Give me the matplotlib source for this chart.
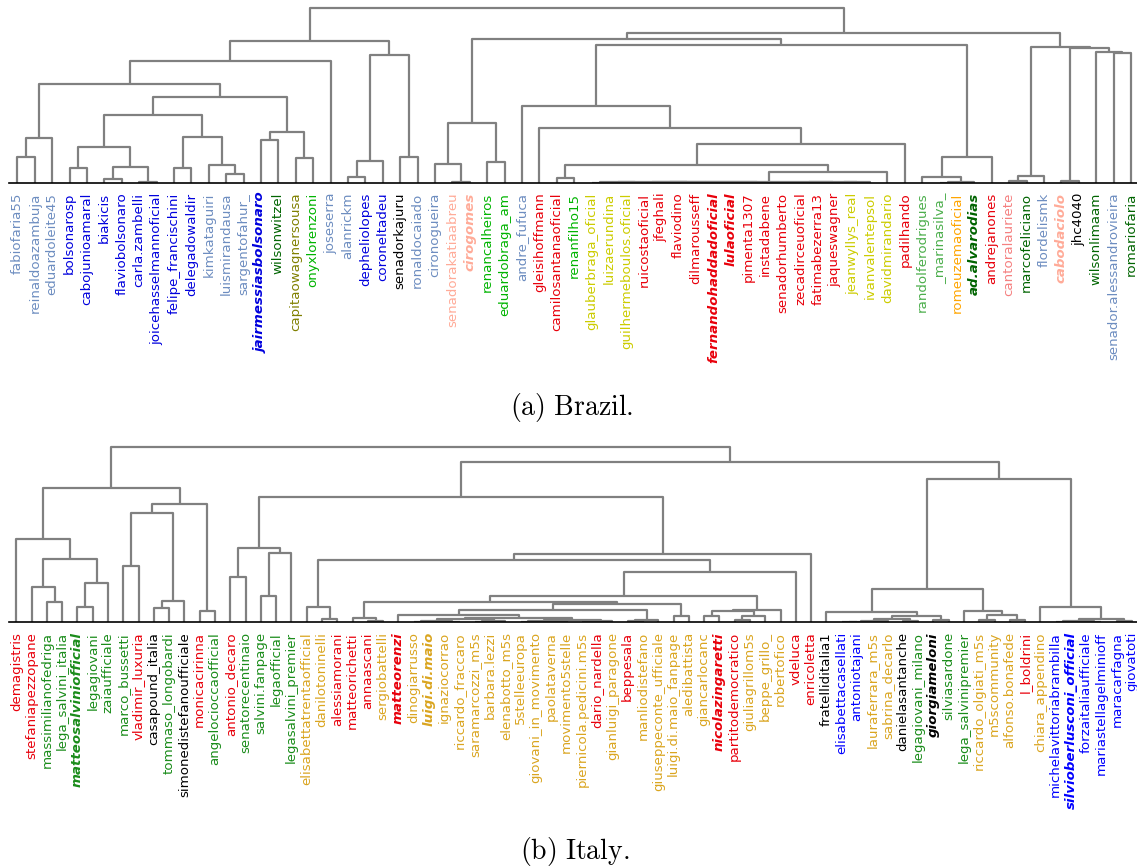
import matplotlib
matplotlib.use('Agg')
import matplotlib.pyplot as plt

plt.rcParams['mathtext.fontset'] = 'cm'

W, H = 1137, 868

# ---------------- Brazil ----------------
BR_LEAVES = [
    'fabiofaria55', 'reinaldoazambuja', 'eduardoleite45', 'bolsonarosp', 'cabojunioamaral',
    'biakicis', 'flaviobolsonaro', 'carla.zambelli', 'joicehasselmannoficial', 'felipe_francischini',
    'delegadowaldir', 'kimkataguiri', 'luismirandausa', 'sargentofahur_', 'jairmessiasbolsonaro',
    'wilsonwitzel', 'capitaowagnersousa', 'onyxlorenzoni', 'joseserra', 'alanrickm',
    'depheliolopes', 'coroneltadeu', 'senadorkajuru', 'ronaldocaiado', 'cironogueira',
    'senadorakatiaabreu', 'cirogomes', 'renancalheiros', 'eduardobraga_am', 'andre_fufuca',
    'gleisihoffmann', 'camilosantanaoficial', 'renanfilho15', 'glauberbraga_oficial', 'luizaerundina',
    'guilhermeboulos.oficial', 'ruicostaoficial', 'jfeghali', 'flaviodino', 'dilmarousseff',
    'fernandohaddadoficial', 'lulaoficial', 'pimenta1307', 'instadabene', 'senadorhumberto',
    'zecadirceuoficial', 'fatimabezerra13', 'jaqueswagner', 'jeanwyllys_real', 'ivanvalentepsol',
    'davidmirandario', 'padilhando', 'randolferodrigues', '_marinasilva_', 'romeuzemaoficial',
    'ad.alvarodias', 'andrejanones', 'cantoralauriete', 'marcofeliciano', 'flordelismk',
    'cabodaciolo', 'jhc4040', 'wilsonlimaam', 'senador.alessandrovieira', 'romariofaria',
]
BR_GROUPS = [
    'gb', 'gb', 'gb', 'b', 'b', 'b', 'b', 'b', 'b', 'b',
    'b', 'gb', 'gb', 'gb', 'b', 'dg', 'ol', 'lg', 'gb', 'gb',
    'b', 'b', 'k', 'gb', 'gb', 'ls', 'ls', 'lg', 'lg', 'gb',
    'r', 'r', 'lg', 'y', 'y', 'y', 'r', 'r', 'r', 'r',
    'r', 'r', 'r', 'r', 'r', 'r', 'r', 'r', 'y', 'y',
    'y', 'r', 'mg', 'mg', 'or', 'dg', 'r', 'co', 'dg', 'gb',
    'ls', 'k', 'dg', 'gb', 'dg',
]
BR_BOLD = ['jairmessiasbolsonaro', 'cirogomes', 'fernandohaddadoficial', 'lulaoficial',
           'ad.alvarodias', 'cabodaciolo']

# (node, left, right, merge distance)
BR_MERGES = [
    ('b1', 'fabiofaria55', 'reinaldoazambuja', 26),
    ('b2', 'b1', 'eduardoleite45', 45),
    ('b3', 'bolsonarosp', 'cabojunioamaral', 15),
    ('b4', 'biakicis', 'flaviobolsonaro', 4),
    ('b5', 'carla.zambelli', 'joicehasselmannoficial', 1),
    ('b6', 'b4', 'b5', 16),
    ('b7', 'b3', 'b6', 36),
    ('b8', 'felipe_francischini', 'delegadowaldir', 15),
    ('b9', 'luismirandausa', 'sargentofahur_', 9),
    ('b10', 'kimkataguiri', 'b9', 18),
    ('b11', 'b8', 'b10', 46),
    ('b12', 'b7', 'b11', 68),
    ('b13', 'jairmessiasbolsonaro', 'wilsonwitzel', 43),
    ('b14', 'capitaowagnersousa', 'onyxlorenzoni', 25),
    ('b15', 'b13', 'b14', 51),
    ('b16', 'b12', 'b15', 86),
    ('b17', 'b2', 'b16', 99),
    ('b18', 'b17', 'joseserra', 122),
    ('b19', 'alanrickm', 'depheliolopes', 6),
    ('b20', 'b19', 'coroneltadeu', 22),
    ('b21', 'senadorkajuru', 'ronaldocaiado', 26),
    ('b22', 'b20', 'b21', 128),
    ('b23', 'b18', 'b22', 142),
    ('b24', 'senadorakatiaabreu', 'cirogomes', 1),
    ('b25', 'cironogueira', 'b24', 19),
    ('b26', 'renancalheiros', 'eduardobraga_am', 21),
    ('b27', 'b25', 'b26', 60),
    ('b28', 'camilosantanaoficial', 'renanfilho15', 5),
    ('b29', 'glauberbraga_oficial', 'luizaerundina', 0.3),
    ('b30', 'guilhermeboulos.oficial', 'ruicostaoficial', 0.3),
    ('b31', 'b29', 'b30', 0.6),
    ('b32', 'jfeghali', 'flaviodino', 0.2),
    ('b33', 'dilmarousseff', 'fernandohaddadoficial', 0.4),
    ('b34', 'b32', 'b33', 0.7),
    ('b35', 'b31', 'b34', 0.9),
    ('b36', 'lulaoficial', 'pimenta1307', 0.3),
    ('b37', 'instadabene', 'senadorhumberto', 0.2),
    ('b38', 'b36', 'b37', 0.5),
    ('b39', 'b35', 'b38', 1.1),
    ('b40', 'zecadirceuoficial', 'fatimabezerra13', 0.4),
    ('b41', 'jaqueswagner', 'jeanwyllys_real', 0.3),
    ('b42', 'b41', 'ivanvalentepsol', 0.6),
    ('b43', 'b40', 'b42', 0.8),
    ('b44', 'b39', 'b43', 1.3),
    ('b45', 'b44', 'davidmirandario', 10.7),
    ('b46', 'b28', 'b45', 18),
    ('b47', 'b46', 'padilhando', 39),
    ('b48', 'gleisihoffmann', 'b47', 55),
    ('b49', 'andre_fufuca', 'b48', 77),
    ('b50', '_marinasilva_', 'romeuzemaoficial', 0.3),
    ('b51', 'b50', 'ad.alvarodias', 1),
    ('b52', 'randolferodrigues', 'b51', 6),
    ('b53', 'b52', 'andrejanones', 26),
    ('b54', 'b49', 'b53', 138),
    ('b55', 'b27', 'b54', 144),
    ('b56', 'cantoralauriete', 'marcofeliciano', 2),
    ('b57', 'b56', 'flordelismk', 7.3),
    ('b58', 'cabodaciolo', 'jhc4040', 2),
    ('b59', 'senador.alessandrovieira', 'romariofaria', 130.3),
    ('b60', 'wilsonlimaam', 'b59', 130.7),
    ('b61', 'b58', 'b60', 135),
    ('b62', 'b57', 'b61', 136.3),
    ('b63', 'b55', 'b62', 150),
    ('b64', 'b23', 'b63', 175),
]

# ---------------- Italy ----------------
IT_LEAVES = [
    'demagistris', 'stefaniapezzopane', 'massimilianofedriga', 'lega_salvini_italia', 'matteosalviniofficial',
    'legagiovani', 'zaiaufficiale', 'marco_bussetti', 'vladimir_luxuria', 'casapound_italia',
    'tommaso_longobardi', 'simonedistefanoufficiale', 'monicacirinna', 'angelocioccaofficial', 'antonio_decaro',
    'senatorecentinaio', 'salvini.fanpage', 'legaofficial', 'legasalvini_premier', 'elisabettatrentaofficial',
    'danilotoninelli', 'alessiamorani', 'matteorichetti', 'annaascani', 'sergiobattelli',
    'matteorenzi', 'dinogiarrusso', 'luigi.di.maio', 'ignaziocorrao', 'riccardo_fraccaro',
    'saramarcozzi_m5s', 'barbara.lezzi', 'elenabotto_m5s', '5stelleeuropa', 'giovani_in_movimento',
    'paolataverna', 'movimento5stelle', 'piernicola.pedicini.m5s', 'dario_nardella', 'gianluigi_paragone',
    'beppesala', 'manliodistefano', 'giuseppeconte_ufficiale', 'luigi.di.maio_fanpage', 'aledibattista',
    'giancarlocanc', 'nicolazingaretti', 'partitodemocratico', 'giuliagrillom5s', 'beppe_grillo_',
    'robertofico', 'vdeluca', 'enricoletta', 'fratelliditalia1', 'elisabettacasellati',
    'antoniotajani', 'lauraferrara_m5s', 'sabrina_decarlo', 'danielasantanche', 'legagiovani_milano',
    'giorgiameloni', 'silviasardone', 'lega_salvinipremier', 'riccardo_olgiati_m5s', 'm5scommunity',
    'alfonso.bonafede', 'l_boldrini', 'chiara_appendino', 'michelavittoriabrambilla', 'silvioberlusconi_official',
    'forzaitaliaufficiale', 'mariastellagelminioff', 'maracarfagna', 'giovatoti',
]
IT_GROUPS = [
    'r', 'r', 'g', 'g', 'g', 'g', 'g', 'g', 'r', 'k',
    'g', 'k', 'r', 'g', 'r', 'g', 'g', 'g', 'g', 'au',
    'au', 'r', 'r', 'r', 'au', 'r', 'au', 'au', 'au', 'au',
    'au', 'au', 'au', 'au', 'au', 'au', 'au', 'au', 'r', 'au',
    'r', 'au', 'au', 'au', 'au', 'au', 'r', 'r', 'au', 'au',
    'au', 'r', 'r', 'k', 'bl', 'bl', 'au', 'au', 'k', 'g',
    'k', 'g', 'g', 'au', 'au', 'au', 'r', 'au', 'bl', 'bl',
    'bl', 'bl', 'bl', 'bl',
]
IT_BOLD = ['matteosalviniofficial', 'matteorenzi', 'luigi.di.maio', 'nicolazingaretti',
           'giorgiameloni', 'silvioberlusconi_official']

IT_MERGES = [
    ('i1', 'massimilianofedriga', 'lega_salvini_italia', 20.3),
    ('i2', 'stefaniapezzopane', 'i1', 35.6),
    ('i3', 'matteosalviniofficial', 'legagiovani', 15.6),
    ('i4', 'i3', 'zaiaufficiale', 39),
    ('i5', 'i2', 'i4', 63.3),
    ('i6', 'demagistris', 'i5', 83),
    ('i7', 'marco_bussetti', 'vladimir_luxuria', 56),
    ('i8', 'casapound_italia', 'tommaso_longobardi', 14.6),
    ('i9', 'i8', 'simonedistefanoufficiale', 21),
    ('i10', 'i7', 'i9', 109),
    ('i11', 'monicacirinna', 'angelocioccaofficial', 11.3),
    ('i12', 'i10', 'i11', 118.3),
    ('i13', 'i6', 'i12', 134.6),
    ('i14', 'antonio_decaro', 'senatorecentinaio', 45),
    ('i15', 'salvini.fanpage', 'legaofficial', 26.3),
    ('i16', 'i15', 'legasalvini_premier', 69),
    ('i17', 'i14', 'i16', 74.3),
    ('i18', 'danilotoninelli', 'alessiamorani', 3.6),
    ('i19', 'elisabettatrentaofficial', 'i18', 15.6),
    ('i20', 'annaascani', 'sergiobattelli', 1.7),
    ('i21', 'matteorichetti', 'i20', 4.6),
    ('i22', 'dinogiarrusso', 'luigi.di.maio', 0.8),
    ('i23', 'ignaziocorrao', 'riccardo_fraccaro', 0.6),
    ('i24', 'i22', 'i23', 1.8),
    ('i25', 'saramarcozzi_m5s', 'barbara.lezzi', 0.7),
    ('i26', 'i25', 'elenabotto_m5s', 1.4),
    ('i27', 'i24', 'i26', 3.0),
    ('i28', '5stelleeuropa', 'giovani_in_movimento', 0.5),
    ('i29', 'paolataverna', 'movimento5stelle', 0.9),
    ('i30', 'i28', 'i29', 1.6),
    ('i31', 'piernicola.pedicini.m5s', 'dario_nardella', 0.7),
    ('i32', 'i31', 'gianluigi_paragone', 1.2),
    ('i33', 'i30', 'i32', 2.2),
    ('i34', 'i27', 'i33', 4.3),
    ('i35', 'matteorenzi', 'i34', 7.3),
    ('i36', 'beppesala', 'manliodistefano', 1.5),
    ('i37', 'i36', 'giuseppeconte_ufficiale', 2.7),
    ('i38', 'i35', 'i37', 12.7),
    ('i39', 'luigi.di.maio_fanpage', 'aledibattista', 6.7),
    ('i40', 'i38', 'i39', 18),
    ('i41', 'i21', 'i40', 20.3),
    ('i42', 'giancarlocanc', 'nicolazingaretti', 6.7),
    ('i43', 'partitodemocratico', 'giuliagrillom5s', 2),
    ('i44', 'i43', 'beppe_grillo_', 6.5),
    ('i45', 'i42', 'i44', 11),
    ('i46', 'i45', 'robertofico', 12.7),
    ('i47', 'i41', 'i46', 26.3),
    ('i48', 'i47', 'vdeluca', 50.3),
    ('i49', 'i19', 'i48', 62.6),
    ('i50', 'i49', 'enricoletta', 68.3),
    ('i51', 'i17', 'i50', 125.7),
    ('i52', 'elisabettacasellati', 'antoniotajani', 0.4),
    ('i53', 'i52', 'lauraferrara_m5s', 0.7),
    ('i54', 'i53', 'sabrina_decarlo', 1.1),
    ('i55', 'danielasantanche', 'legagiovani_milano', 1.3),
    ('i56', 'i54', 'i55', 3.5),
    ('i57', 'giorgiameloni', 'silviasardone', 2.6),
    ('i58', 'i56', 'i57', 6.7),
    ('i59', 'fratelliditalia1', 'i58', 10.3),
    ('i60', 'riccardo_olgiati_m5s', 'm5scommunity', 2),
    ('i61', 'alfonso.bonafede', 'l_boldrini', 2.7),
    ('i62', 'i60', 'i61', 7.3),
    ('i63', 'lega_salvinipremier', 'i62', 11.7),
    ('i64', 'i59', 'i63', 33),
    ('i65', 'michelavittoriabrambilla', 'silvioberlusconi_official', 0.5),
    ('i66', 'forzaitaliaufficiale', 'mariastellagelminioff', 0.7),
    ('i67', 'i65', 'i66', 1.2),
    ('i68', 'maracarfagna', 'giovatoti', 1.0),
    ('i69', 'i67', 'i68', 3.7),
    ('i70', 'chiara_appendino', 'i69', 15.3),
    ('i71', 'i64', 'i70', 143.3),
    ('i72', 'i51', 'i71', 160),
    ('i73', 'i13', 'i72', 175),
]

PALETTE = {
    'gb': '#6d8dc0', 'b': '#0000dd', 'bl': '#0000ff', 'dg': '#006400', 'ol': '#808000',
    'lg': '#00b400', 'mg': '#4cae4c', 'g': '#1a8c1a', 'y': '#cccc00', 'r': '#e8000b',
    'ls': '#ffab98', 'co': '#f58080', 'or': '#ffa500', 'au': '#daa520', 'k': 'black',
}


def draw_dendrogram(ax, leaves, merges, groups, bold):
    pos = {name: 10 * k + 5 for k, name in enumerate(leaves)}
    level = {name: 0.0 for name in leaves}
    for node, left, right, dist in merges:
        xl, xr = pos[left], pos[right]
        ax.plot([xl, xl, xr, xr], [level[left], dist, dist, level[right]],
                color='#808080', lw=1.6, solid_capstyle='butt', zorder=2)
        pos[node] = 0.5 * (xl + xr)
        level[node] = dist

    ax.set_xlim(0, 10 * len(leaves))
    ax.set_ylim(0, 183)
    for side in ('top', 'left', 'right'):
        ax.spines[side].set_visible(False)
    ax.spines['bottom'].set_linewidth(1.2)
    ax.spines['bottom'].set_zorder(3)
    ax.set_yticks([])
    ax.set_xticks([pos[name] for name in leaves])
    ax.set_xticklabels(leaves, rotation=90, fontsize=9.6)
    ax.tick_params(axis='x', length=0, pad=7)
    for tick, name, grp in zip(ax.get_xticklabels(), leaves, groups):
        tick.set_color(PALETTE[grp])
        if name in bold:
            tick.set_fontweight('bold')
            tick.set_fontstyle('italic')


fig = plt.figure(figsize=(W / 100, H / 100), dpi=100)

ax_br = fig.add_axes([8.7 / W, (H - 183) / H, 1131 / W, 183 / H])
draw_dendrogram(ax_br, BR_LEAVES, BR_MERGES, BR_GROUPS, BR_BOLD)

ax_it = fig.add_axes([8.7 / W, (H - 622.3) / H, 1131 / W, 183 / H])
draw_dendrogram(ax_it, IT_LEAVES, IT_MERGES, IT_GROUPS, IT_BOLD)

fig.text(572 / W, 1 - 408 / H, r'$\mathrm{(a)\ Brazil.}$', fontsize=20, ha='center', va='center')
fig.text(575 / W, 1 - 852 / H, r'$\mathrm{(b)\ Italy.}$', fontsize=20, ha='center', va='center')

fig.savefig('out.png', dpi=100)
